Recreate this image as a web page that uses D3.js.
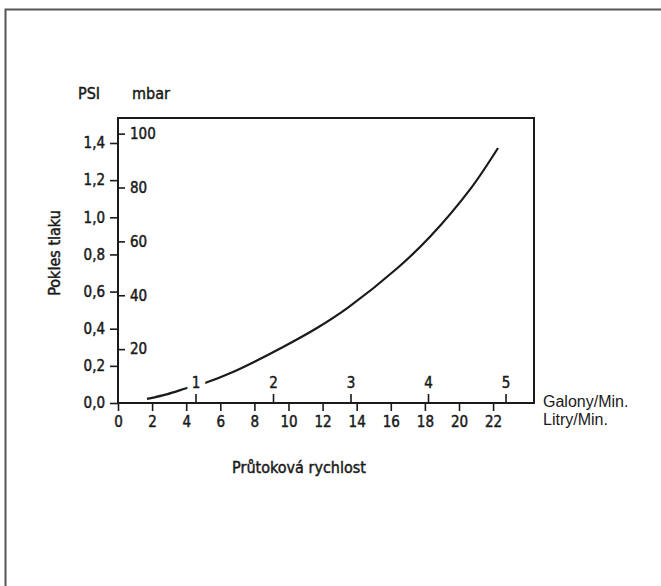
<!DOCTYPE html>
<html>
<head>
<meta charset="utf-8">
<script src="https://cdn.jsdelivr.net/npm/d3@7"></script>
<style>
  html, body { margin: 0; padding: 0; background: #fff; }
  svg { display: block; }
  .narrow { font-family: 'Liberation Sans Narrow', 'Arial Narrow', 'DejaVu Sans Condensed', sans-serif; }
</style>
</head>
<body>
<div id="chart"></div>
<script>
// Flow rate (litres/min) vs pressure drop (psi)
const flowLpm = [1.7, 2.9, 4.05, 5.1, 6.74, 9.68, 11.67, 13.49, 16.36, 18.3, 20.65, 22.29];
const dropPsi = [0.022, 0.048, 0.081, 0.108, 0.167, 0.302, 0.404, 0.514, 0.724, 0.895, 1.15, 1.373];

const psiTicks = [0, 0.2, 0.4, 0.6, 0.8, 1.0, 1.2, 1.4];
const mbarTicks = [20, 40, 60, 80, 100];
const litreTicks = [0, 2, 4, 6, 8, 10, 12, 14, 16, 18, 20, 22];
const gallonTicks = [1, 2, 3, 4, 5];

const MBAR_PER_PSI = 68.948;
const LITRES_PER_GALLON = 4.546; // imperial

const width = 661, height = 586;
const plot = { left: 118, right: 534, top: 118, bottom: 403 };
const xMax = 24.4;
const ink = '#1a1a1a';

const svg = d3.select('#chart').append('svg')
    .attr('width', width)
    .attr('height', height);

// Outer frame (runs off right and bottom edge)
svg.append('rect')
    .attr('x', 5.5).attr('y', 9.5)
    .attr('width', 700).attr('height', 700)
    .attr('fill', 'none')
    .attr('stroke', '#555')
    .attr('stroke-width', 2);

const x = d3.scaleLinear().domain([0, xMax]).range([plot.left, plot.right]);
const xGal = d3.scaleLinear().domain([0, xMax / LITRES_PER_GALLON]).range([plot.left, plot.right]);
const y = d3.scaleLinear().domain([0, 1.4]).range([plot.bottom, 143]);
const yMbar = d3.scaleLinear().domain([0, 1.4 * MBAR_PER_PSI]).range([plot.bottom, 143]);

const commaFmt = d3.formatLocale({ decimal: ',', thousands: ' ', grouping: [3], currency: ['', ''] }).format('.1f');

// thicken the thin narrow font a bit, like the printed original
function inkText(sel, size) {
    sel.attr('class', 'narrow')
        .attr('fill', ink)
        .attr('stroke', ink)
        .attr('stroke-width', 0.45)
        .style('font-size', size)
        .style('font-family', null);
}

function styleAxis(g) {
    g.select('.domain').remove();
    g.selectAll('line').attr('stroke', ink).attr('stroke-width', 1.6);
    g.selectAll('text').call(inkText, '15px');
}

// PSI axis (left)
svg.append('g')
    .attr('transform', `translate(${plot.left},0)`)
    .call(d3.axisLeft(y).tickValues(psiTicks).tickFormat(commaFmt).tickSize(8).tickPadding(5))
    .call(styleAxis);

// mbar axis (inside, to the right of the left axis line)
svg.append('g')
    .attr('transform', `translate(${plot.left},0)`)
    .call(d3.axisRight(yMbar).tickValues(mbarTicks).tickSize(7).tickPadding(5))
    .call(styleAxis);

// Litres axis (below)
svg.append('g')
    .attr('transform', `translate(0,${plot.bottom})`)
    .call(d3.axisBottom(x).tickValues(litreTicks).tickSize(8).tickPadding(5))
    .call(styleAxis);

// Curve
const line = d3.line()
    .x((d, i) => x(flowLpm[i]))
    .y(d => y(d))
    .curve(d3.curveCatmullRom.alpha(0.5));

svg.append('path')
    .datum(dropPsi)
    .attr('d', line)
    .attr('fill', 'none')
    .attr('stroke', ink)
    .attr('stroke-width', 2.2);

// Gallons axis (above the bottom line), white halo cuts the curve at "1"
const galAxis = svg.append('g')
    .attr('transform', `translate(0,${plot.bottom})`)
    .call(d3.axisTop(xGal).tickValues(gallonTicks).tickFormat(d3.format('d')).tickSize(9).tickPadding(6))
    .call(styleAxis);
galAxis.selectAll('text').each(function () {
    d3.select(this).clone(true).lower()
        .attr('stroke', '#fff')
        .attr('stroke-width', 12)
        .attr('fill', '#fff');
});

// Plot box
svg.append('rect')
    .attr('x', plot.left).attr('y', plot.top)
    .attr('width', plot.right - plot.left)
    .attr('height', plot.bottom - plot.top)
    .attr('fill', 'none')
    .attr('stroke', ink)
    .attr('stroke-width', 2);

// Labels
svg.append('text')
    .attr('x', 89).attr('y', 99)
    .attr('text-anchor', 'middle')
    .call(inkText, '16px')
    .text('PSI');

svg.append('text')
    .attr('x', 151).attr('y', 99)
    .attr('text-anchor', 'middle')
    .call(inkText, '16px')
    .text('mbar');

svg.append('text')
    .attr('transform', 'translate(60,253) rotate(-90)')
    .attr('text-anchor', 'middle')
    .call(inkText, '16px')
    .text('Pokles tlaku');

svg.append('text')
    .attr('x', 299).attr('y', 473)
    .attr('text-anchor', 'middle')
    .call(inkText, '16px')
    .text('Průtoková rychlost');

svg.append('text')
    .attr('x', 543).attr('y', 407)
    .style('font-family', "'Liberation Sans', Arial, sans-serif")
    .style('font-size', '16px').attr('fill', ink)
    .text('Galony/Min.');

svg.append('text')
    .attr('x', 543).attr('y', 425)
    .style('font-family', "'Liberation Sans', Arial, sans-serif")
    .style('font-size', '16px').attr('fill', ink)
    .text('Litry/Min.');
</script>
</body>
</html>
